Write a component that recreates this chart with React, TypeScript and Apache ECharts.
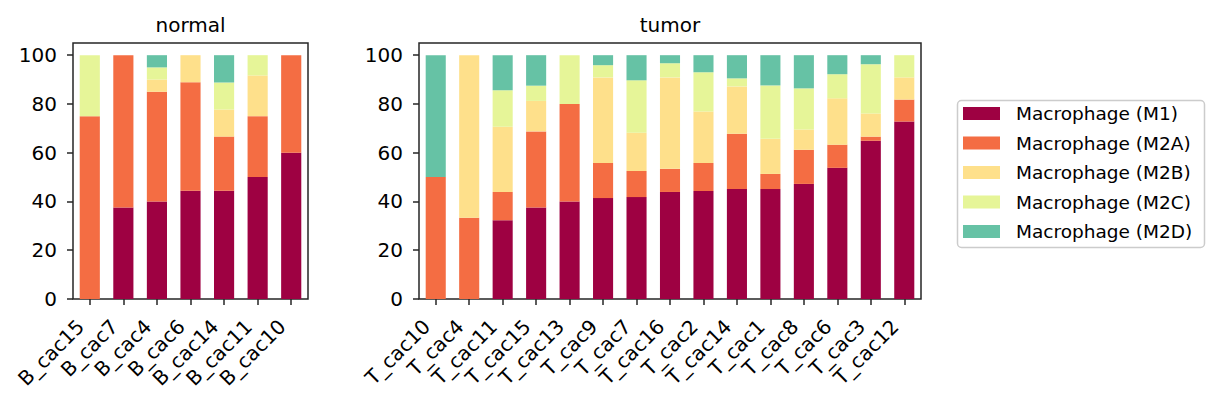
import React, { useEffect, useRef } from "react";
import * as echarts from "echarts";

const seriesNames = ["Macrophage (M1)", "Macrophage (M2A)", "Macrophage (M2B)", "Macrophage (M2C)", "Macrophage (M2D)"];
const colors = ["#9e0142", "#f46d43", "#fee08b", "#e6f598", "#66c2a5"];
const yTicks = [0, 20, 40, 60, 80, 100];

const normalCats = ["B_cac15", "B_cac7", "B_cac4", "B_cac6", "B_cac14", "B_cac11", "B_cac10"];
const normalM1 = [0, 37.5, 40, 44.4, 44.4, 50, 60];
const normalM2A = [75, 62.5, 45, 44.5, 22.2, 25, 40];
const normalM2B = [0, 0, 5, 11.1, 11.1, 16.7, 0];
const normalM2C = [25, 0, 5, 0, 11.1, 8.3, 0];
const normalM2D = [0, 0, 5, 0, 11.2, 0, 0];

const tumorCats = ["T_cac10", "T_cac4", "T_cac11", "T_cac15", "T_cac13", "T_cac9", "T_cac7", "T_cac16", "T_cac2", "T_cac14", "T_cac1", "T_cac8", "T_cac6", "T_cac3", "T_cac12"];
const tumorM1 = [0, 0, 32.3, 37.5, 40, 41.4, 41.8, 43.9, 44.3, 45.1, 45.1, 47.2, 53.8, 64.9, 72.8];
const tumorM2A = [50, 33.3, 11.6, 31.25, 40, 14.4, 10.7, 9.5, 11.5, 22.7, 6.2, 14.0, 9.5, 1.7, 9.0];
const tumorM2B = [0, 66.7, 26.8, 12.5, 0, 35.1, 15.7, 37.5, 21.1, 19.4, 14.4, 8.3, 19.0, 9.5, 9.1];
const tumorM2C = [0, 0, 14.9, 6.25, 20, 5.0, 21.5, 5.8, 16.1, 3.3, 21.9, 16.9, 9.9, 20.2, 9.1];
const tumorM2D = [50, 0, 14.4, 12.5, 0, 4.1, 10.3, 3.3, 7.0, 9.5, 12.4, 13.6, 7.8, 3.7, 0];

const FONT = "DejaVu Sans";
const DARK = "#262626";

export default function App() {
  const ref = useRef<HTMLDivElement>(null);
  useEffect(() => {
    if (!ref.current) return;
    const chart = echarts.init(ref.current, undefined, { renderer: "svg" });
    const normalData = [normalM1, normalM2A, normalM2B, normalM2C, normalM2D];
    const tumorData = [tumorM1, tumorM2A, tumorM2B, tumorM2C, tumorM2D];

    const grids = [
      { left: 73, top: 43, width: 235, height: 256 },
      { left: 419, top: 43, width: 502, height: 256 },
    ];

    const xAxisBase = (idx: number, cats: string[]) => ({
      type: "category",
      gridIndex: idx,
      data: cats,
      axisLine: { show: false },
      axisTick: { show: true, alignWithLabel: true, length: 6, lineStyle: { color: DARK, width: 1.5 } },
      axisLabel: {
        interval: 0, rotate: 45, margin: 29, fontSize: 20, color: "#000", fontFamily: FONT,
        align: "right", verticalAlign: "bottom", padding: [0, 3, 0, 0],
      },
      splitLine: { show: false },
    });
    const yAxisBase = (idx: number) => ({
      type: "value",
      gridIndex: idx,
      min: 0,
      max: 105,
      interval: 20,
      axisLine: { show: false },
      axisTick: { show: true, length: 6, lineStyle: { color: DARK, width: 1.5 }, customValues: yTicks },
      axisLabel: { fontSize: 20, color: "#000", fontFamily: FONT, margin: 16, customValues: yTicks },
      splitLine: { show: false },
    });

    const series: any[] = [];
    normalData.forEach((d, i) => {
      series.push({
        type: "bar", name: seriesNames[i], xAxisIndex: 0, yAxisIndex: 0, stack: "normal",
        data: d, barWidth: "60%", itemStyle: { color: colors[i] },
      });
    });
    tumorData.forEach((d, i) => {
      series.push({
        type: "bar", name: seriesNames[i], xAxisIndex: 1, yAxisIndex: 1, stack: "tumor",
        data: d, barWidth: "60%", itemStyle: { color: colors[i] },
      });
    });

    chart.setOption({
      animation: false,
      backgroundColor: "#fff",
      textStyle: { fontFamily: FONT },
      grid: grids.map((g) => ({ ...g, show: true, borderColor: DARK, borderWidth: 1.5, backgroundColor: "transparent", containLabel: false })),
      xAxis: [xAxisBase(0, normalCats), xAxisBase(1, tumorCats)],
      yAxis: [yAxisBase(0), yAxisBase(1)],
      legend: {
        orient: "vertical",
        left: 963,
        top: 104,
        padding: 0,
        itemWidth: 37,
        itemHeight: 13,
        itemGap: 10.5,
        icon: "rect",
        data: seriesNames,
        selectedMode: false,
        textStyle: { fontSize: 18.5, lineHeight: 18, color: "#000", fontFamily: FONT, padding: [0, 0, 0, 11] },
      },
      graphic: [
        { type: "rect", left: 955, top: 98, shape: { width: 247, height: 147, r: 4 }, style: { fill: "none", stroke: "#cccccc", lineWidth: 1.5 }, z: -1 },
        { type: "text", x: 190.5, y: 25, style: { text: "normal", align: "center", verticalAlign: "middle", fontSize: 20, fill: "#000", fontFamily: FONT } },
        { type: "text", x: 670, y: 25, style: { text: "tumor", align: "center", verticalAlign: "middle", fontSize: 20, fill: "#000", fontFamily: FONT } },
      ],
      series,
    });
    return () => chart.dispose();
  }, []);
  return <div ref={ref} style={{ position: "fixed", left: 0, top: 0, width: 1216, height: 405 }} />;
}
